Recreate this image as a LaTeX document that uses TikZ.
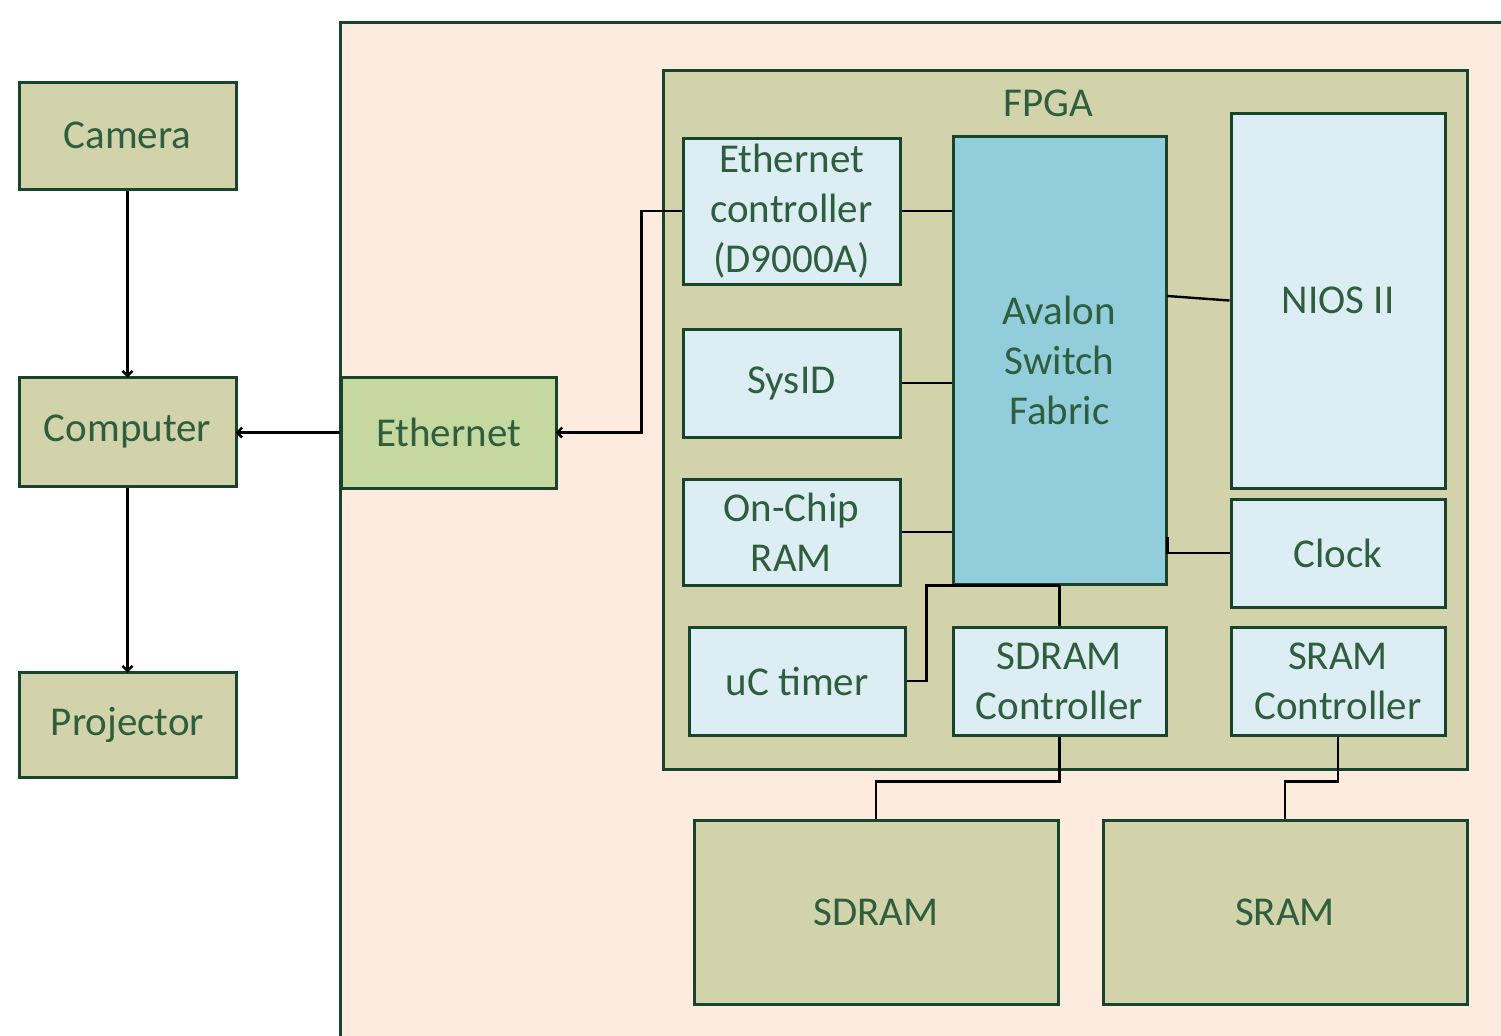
\documentclass[tikz,border=0pt]{standalone}
\usepackage{fontspec}
\setmainfont{Carlito}
\usepackage{tikz}
\usetikzlibrary{arrows.meta}

\definecolor{boardbg}{HTML}{FCEBDE}
\definecolor{olive}{HTML}{D2D3AB}
\definecolor{edgegreen}{HTML}{17442A}
\definecolor{textgreen}{HTML}{2F5E3E}
\definecolor{paleblue}{HTML}{DCEEF3}
\definecolor{busblue}{HTML}{92CDDB}
\definecolor{netgreen}{HTML}{C5D8A0}

\begin{document}
\begin{tikzpicture}[x=0.5pt, y=-0.5pt, >={Straight Barb[length=2.5pt,width=5pt]},
    block/.style = {draw=edgegreen, line width=1.5pt, inner sep=0pt, align=center,
        text=textgreen, font=\fontsize{20.5}{25}\selectfont},
    outer/.style = {block, fill=olive},
    part/.style = {block, fill=paleblue},
    wire/.style = {draw=black, line width=1.2pt},
    link/.style = {wire, ->, shorten >=-1pt}]

    \useasboundingbox (0,0) rectangle (1501,1035);
    \begin{scope}
    \clip (0,0) rectangle (1501,1035);
    \fill[boardbg, draw=edgegreen, line width=1.5pt] (340,22) rectangle (1540,1070);
    \end{scope}
    \draw[fill=olive, draw=edgegreen, line width=1.5pt] (663,70) rectangle (1467,769);

    % Nodes
    \node[outer, minimum width=108.5pt, minimum height=53.5pt] (camera) at (127.5,135.5) {Camera};
    \node[outer, minimum width=108.5pt, minimum height=54.5pt] (computer) at (127.5,431.5) {Computer};
    \node[outer, minimum width=108.5pt, minimum height=52.5pt] (projector) at (127.5,724.5) {Projector};
    \node[outer, fill=netgreen, minimum width=107.5pt, minimum height=55.5pt] (ethernet) at (448.5,432.5) {Ethernet};

    \node[block, draw=none] (fpga) at (1048,103) {FPGA};

    \node[part, minimum width=108.5pt, minimum height=73pt] (ethctl) at (791.5,211) {Ethernet\\controller\\(D9000A)};
    \node[part, minimum width=108.5pt, minimum height=54pt] (sysid) at (791.5,383) {SysID};
    \node[part, minimum width=108.5pt, minimum height=53pt] (ram) at (791.5,532) {On-Chip\\RAM};
    \node[part, fill=busblue, minimum width=106.5pt, minimum height=224pt] (avalon) at (1059.5,360) {Avalon\\Switch\\Fabric};
    \node[part, minimum width=107pt, minimum height=187.5pt] (nios) at (1338,300.5) {NIOS II};
    \node[part, minimum width=107pt, minimum height=54pt] (clock) at (1338,553) {Clock};
    \node[part, minimum width=108pt, minimum height=54pt] (uctimer) at (797,681) {uC timer};
    \node[part, minimum width=106.5pt, minimum height=54pt] (sdramc) at (1059.5,681) {SDRAM\\Controller};
    \node[part, minimum width=107pt, minimum height=54pt] (sramc) at (1338,681) {SRAM\\Controller};

    \node[outer, minimum width=182pt, minimum height=92pt] (sdram) at (876,912) {SDRAM};
    \node[outer, minimum width=182pt, minimum height=92pt] (sram) at (1285,912) {SRAM};

    % Edges
    \draw[link] (camera) -- (computer);
    \draw[link] (computer) -- (projector);
    \draw[link] (ethernet.west) -- (ethernet.west -| computer.east);
    \draw[link] (ethctl.west) -- ++(-40,0) |- (ethernet.east);

    \draw[wire] (ethctl.east) -- (ethctl.east -| avalon.west);
    \draw[wire] (sysid.east) -- (sysid.east -| avalon.west);
    \draw[wire] (ram.east) -- (ram.east -| avalon.west);
    \draw[wire] (avalon.east |- 0,296) -- (nios.west);
    \draw[wire] (avalon.east |- 0,537) |- (clock.west);
    \draw[wire] (uctimer.east) -- ++(20,0) |- (avalon.south);
    \draw[wire] (avalon.south) -- (sdramc.north);
    \draw[wire] (sdramc.south) -- ++(0,45) -| (sdram.north);
    \draw[wire] (sramc.south) -- ++(0,45) -| (sram.north);

\end{tikzpicture}
\end{document}
